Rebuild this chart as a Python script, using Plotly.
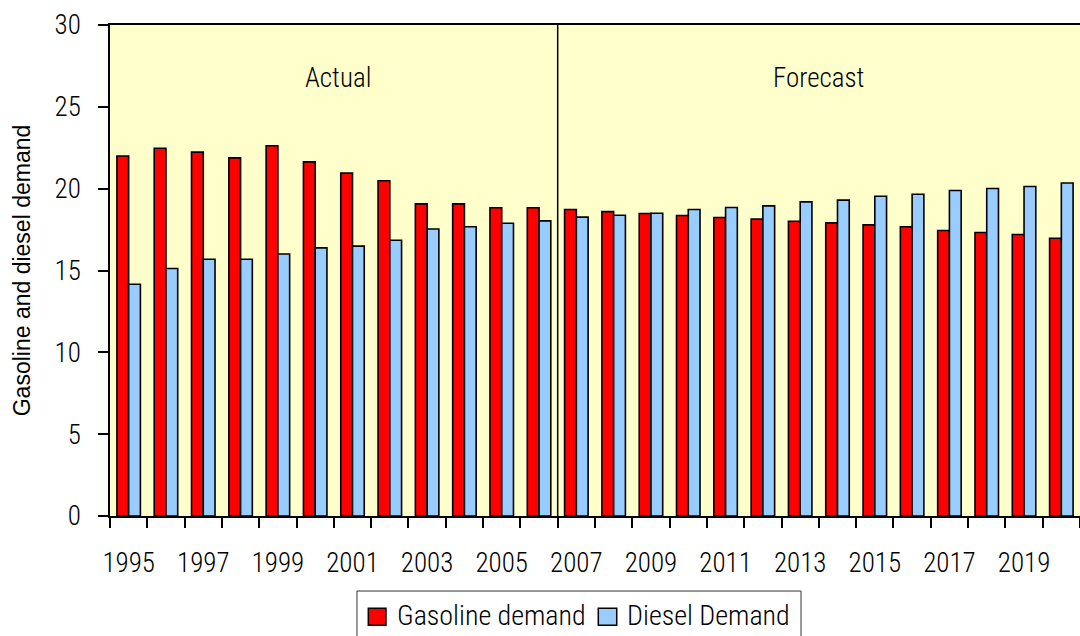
import plotly.graph_objects as go

# Annual demand, actual (1995-2006) and forecast (2007-2020)
years = [str(y) for y in range(1995, 2021)]
gasoline_demand = [22.0, 22.47, 22.23, 21.88, 22.62, 21.64, 20.95, 20.48, 19.07, 19.07,
                   18.83, 18.83, 18.73, 18.6, 18.48, 18.36, 18.24, 18.14, 18.01, 17.91,
                   17.79, 17.67, 17.44, 17.32, 17.2, 16.97]
diesel_demand = [14.16, 15.12, 15.69, 15.69, 16.01, 16.38, 16.49, 16.85, 17.54, 17.67,
                 17.89, 18.03, 18.26, 18.38, 18.5, 18.73, 18.85, 18.95, 19.19, 19.3,
                 19.54, 19.66, 19.89, 20.01, 20.13, 20.35]
# every other year is labelled
tick_labels = [y if i % 2 == 0 else "" for i, y in enumerate(years)]
series_names = ["Gasoline demand", "Diesel Demand"]
period_labels = ["Actual", "Forecast"]
first_forecast_year = "2007"

RED = "#FF0000"
BLUE = "#99CCFF"
PLOT_BG = "#FFFFCC"
NARROW = "Roboto Condensed, sans-serif"
NARROW_FONT = dict(family=NARROW, size=27, color="black", weight=300)
LEGEND_FONT = dict(family=NARROW, size=28, color="black", weight=300)

fig = go.Figure()
fig.add_trace(go.Bar(x=years, y=gasoline_demand, name=series_names[0],
                     marker=dict(color=RED, line=dict(color="black", width=1.6)),
                     showlegend=False))
fig.add_trace(go.Bar(x=years, y=diesel_demand, name=series_names[1],
                     marker=dict(color=BLUE, line=dict(color="black", width=1.6)),
                     showlegend=False))

# boundary between actual and forecast periods
split = years.index(first_forecast_year) - 0.5
n = len(years)
fig.add_shape(type="line", xref="x", yref="paper", x0=split, x1=split, y0=0, y1=1,
              line=dict(color="black", width=1.5))
fig.add_annotation(x=(split - 0.5) / 2 + 0.1, y=0.929, xref="x", yref="paper",
                   text=period_labels[0], showarrow=False, font=NARROW_FONT)
fig.add_annotation(x=(split + n - 0.5) / 2, y=0.929, xref="x", yref="paper",
                   text=period_labels[1], showarrow=False, font=NARROW_FONT)

# legend box below the axis
fig.add_shape(type="rect", xref="paper", yref="paper",
              x0=0.2546, x1=0.7124, y0=-0.26, y1=-0.1528,
              line=dict(color="#333333", width=1), fillcolor="white", layer="above")
legend_items = [(series_names[0], RED, 0.2663, 0.2845, 0.2956),
                (series_names[1], BLUE, 0.5034, 0.5224, 0.5326)]
for name, color, sx0, sx1, tx in legend_items:
    fig.add_shape(type="rect", xref="paper", yref="paper",
                  x0=sx0, x1=sx1, y0=-0.2223, y1=-0.188,
                  line=dict(color="black", width=1.5), fillcolor=color, layer="above")
    fig.add_annotation(x=tx, y=-0.2017, xref="paper", yref="paper", text=name,
                       showarrow=False, xanchor="left", yanchor="middle",
                       xshift=-2, font=LEGEND_FONT)

fig.update_layout(
    width=1080, height=636,
    margin=dict(l=110, r=0, t=25, b=120, autoexpand=False),
    paper_bgcolor="white",
    plot_bgcolor=PLOT_BG,
    barmode="group",
    bargap=0.37,
    bargroupgap=0,
    showlegend=False,
)
fig.update_xaxes(
    type="category",
    tickmode="array", tickvals=years, ticktext=tick_labels,
    tickson="boundaries", tickangle=0,
    ticks="outside", ticklen=10, tickwidth=1.5, tickcolor="black",
    showline=True, linecolor="black", linewidth=1.5, mirror=True,
    showgrid=False, zeroline=False,
    ticklabelstandoff=22,
    tickfont=NARROW_FONT,
)
fig.update_yaxes(
    range=[0, 30], dtick=5,
    ticks="outside", ticklen=10, tickwidth=1.5, tickcolor="black",
    showline=True, linecolor="black", linewidth=1.5,
    showgrid=False, zeroline=False,
    ticklabelstandoff=12,
    tickfont=NARROW_FONT,
    title=dict(text="Gasoline and diesel demand", standoff=18,
               font=dict(family="Liberation Sans, Arial, sans-serif", size=23, color="black")),
)

fig.write_html("out.html")
